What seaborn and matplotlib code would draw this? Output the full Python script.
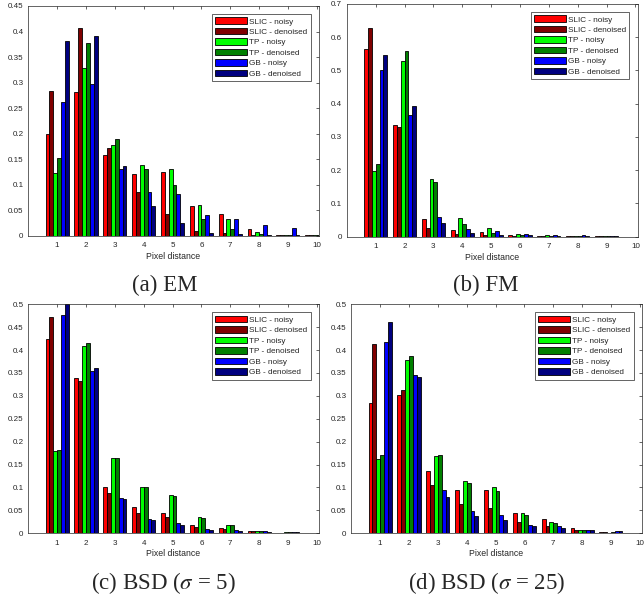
import numpy as np
import pandas as pd
import matplotlib
matplotlib.use("Agg")
import matplotlib.pyplot as plt
from matplotlib.ticker import FuncFormatter, MultipleLocator
import seaborn as sns

# Pixel distances (bar groups) and the six compared methods
DISTANCES = [1, 2, 3, 4, 5, 6, 7, 8, 9, 10]
SERIES = ["SLIC - noisy", "SLIC - denoised", "TP - noisy",
          "TP - denoised", "GB - noisy", "GB - denoised"]
COLORS = ["#ff0000", "#800000", "#00ff00", "#008000", "#0000ff", "#000080"]

# (a) EM
EM_SLIC_NOISY = [0.200, 0.282, 0.159, 0.121, 0.124, 0.059, 0.042, 0.013, 0.0005, 0.0005]
EM_SLIC_DENOISED = [0.283, 0.406, 0.172, 0.085, 0.042, 0.010, 0.005, 0.001, 0.0005, 0.0005]
EM_TP_NOISY = [0.123, 0.328, 0.177, 0.139, 0.131, 0.061, 0.033, 0.008, 0.001, 0.0005]
EM_TP_DENOISED = [0.152, 0.377, 0.190, 0.131, 0.099, 0.033, 0.014, 0.004, 0.002, 0.0005]
EM_GB_NOISY = [0.262, 0.298, 0.130, 0.086, 0.082, 0.040, 0.033, 0.020, 0.016, 0.0005]
EM_GB_DENOISED = [0.381, 0.391, 0.136, 0.059, 0.025, 0.005, 0.003, 0.001, 0.001, 0.0005]

# (b) FM
FM_SLIC_NOISY = [0.565, 0.336, 0.053, 0.021, 0.015, 0.006, 0.002, 0.002, 0.001, 0.0005]
FM_SLIC_DENOISED = [0.628, 0.329, 0.026, 0.009, 0.005, 0.003, 0.001, 0.001, 0.001, 0.0005]
FM_TP_NOISY = [0.199, 0.529, 0.174, 0.056, 0.025, 0.008, 0.004, 0.002, 0.001, 0.0005]
FM_TP_DENOISED = [0.218, 0.560, 0.164, 0.039, 0.010, 0.004, 0.003, 0.002, 0.001, 0.0005]
FM_GB_NOISY = [0.501, 0.366, 0.060, 0.024, 0.017, 0.008, 0.006, 0.004, 0.003, 0.0005]
FM_GB_DENOISED = [0.546, 0.392, 0.042, 0.010, 0.006, 0.004, 0.003, 0.002, 0.001, 0.0005]

# (c) BSD, sigma = 5
BSD5_SLIC_NOISY = [0.425, 0.338, 0.101, 0.057, 0.045, 0.019, 0.012, 0.005, 0.001, 0.0005]
BSD5_SLIC_DENOISED = [0.473, 0.333, 0.088, 0.045, 0.035, 0.014, 0.009, 0.004, 0.001, 0.0005]
BSD5_TP_NOISY = [0.179, 0.410, 0.165, 0.101, 0.084, 0.035, 0.018, 0.006, 0.002, 0.0005]
BSD5_TP_DENOISED = [0.181, 0.415, 0.165, 0.100, 0.082, 0.034, 0.018, 0.006, 0.002, 0.0005]
BSD5_GB_NOISY = [0.476, 0.354, 0.076, 0.032, 0.022, 0.010, 0.008, 0.005, 0.003, 0.0005]
BSD5_GB_DENOISED = [0.500, 0.360, 0.075, 0.029, 0.019, 0.007, 0.005, 0.003, 0.002, 0.0005]

# (d) BSD, sigma = 25
BSD25_SLIC_NOISY = [0.285, 0.302, 0.135, 0.095, 0.094, 0.044, 0.031, 0.012, 0.002, 0.0005]
BSD25_SLIC_DENOISED = [0.413, 0.313, 0.105, 0.065, 0.055, 0.025, 0.017, 0.007, 0.002, 0.0005]
BSD25_TP_NOISY = [0.162, 0.379, 0.168, 0.114, 0.100, 0.044, 0.024, 0.007, 0.001, 0.0005]
BSD25_TP_DENOISED = [0.170, 0.387, 0.170, 0.110, 0.092, 0.040, 0.023, 0.007, 0.002, 0.0005]
BSD25_GB_NOISY = [0.418, 0.345, 0.095, 0.049, 0.040, 0.018, 0.015, 0.008, 0.005, 0.0005]
BSD25_GB_DENOISED = [0.462, 0.341, 0.079, 0.038, 0.029, 0.015, 0.011, 0.007, 0.005, 0.0005]

CAPTIONS = ["(a) EM", "(b) FM", r"(c) BSD ($\sigma$ = 5)", r"(d) BSD ($\sigma$ = 25)"]
Y_MAX = [0.45, 0.7, 0.5, 0.5]
Y_STEP = [0.05, 0.1, 0.05, 0.05]

sns.set_theme(style="white")
plt.rcParams.update({
    "font.family": ["Liberation Sans", "DejaVu Sans"],
    "mathtext.fontset": "stix",
    "axes.edgecolor": "#262626",
    "axes.linewidth": 0.5,
    "xtick.color": "#262626",
    "ytick.color": "#262626",
    "axes.labelcolor": "#262626",
})

W, H = 644, 595
fig = plt.figure(figsize=(W / 100, H / 100), dpi=100)


def px_rect(left, top, right, bottom):
    return [left / W, 1 - bottom / H, (right - left) / W, (bottom - top) / H]


rects = [
    px_rect(28.3, 6.0, 318.8, 235.7),
    px_rect(346.8, 4.0, 637.5, 236.7),
    px_rect(28.3, 304.3, 318.8, 533.3),
    px_rect(351.3, 304.3, 641.8, 533.3),
]
caption_pos = [(164.5, 285.0), (486.0, 285.0), (163.7, 583.5), (487.0, 583.5)]

panel_data = [
    [EM_SLIC_NOISY, EM_SLIC_DENOISED, EM_TP_NOISY, EM_TP_DENOISED, EM_GB_NOISY, EM_GB_DENOISED],
    [FM_SLIC_NOISY, FM_SLIC_DENOISED, FM_TP_NOISY, FM_TP_DENOISED, FM_GB_NOISY, FM_GB_DENOISED],
    [BSD5_SLIC_NOISY, BSD5_SLIC_DENOISED, BSD5_TP_NOISY, BSD5_TP_DENOISED, BSD5_GB_NOISY, BSD5_GB_DENOISED],
    [BSD25_SLIC_NOISY, BSD25_SLIC_DENOISED, BSD25_TP_NOISY, BSD25_TP_DENOISED, BSD25_GB_NOISY, BSD25_GB_DENOISED],
]

fmt = FuncFormatter(lambda v, _: f"{v:g}")

for rect, series_values, ymax, ystep, caption, cpos in zip(
        rects, panel_data, Y_MAX, Y_STEP, CAPTIONS, caption_pos):
    frame = pd.DataFrame({
        "distance": np.tile(DISTANCES, len(SERIES)),
        "method": np.repeat(SERIES, len(DISTANCES)),
        "fraction": np.concatenate(series_values),
    })
    ax = fig.add_axes(rect)
    sns.barplot(data=frame, x="distance", y="fraction", hue="method",
                hue_order=SERIES, palette=COLORS, native_scale=True,
                width=0.8, gap=0, errorbar=None, saturation=1,
                edgecolor="black", linewidth=0.6, ax=ax)
    ax.set_xlim(0, 10.07)
    ax.set_ylim(0, ymax)
    ax.set_xticks(DISTANCES)
    ax.yaxis.set_major_locator(MultipleLocator(ystep))
    ax.yaxis.set_major_formatter(fmt)
    ax.tick_params(direction="in", length=2.2, width=0.5, labelsize=5.8,
                   top=True, right=True, pad=3.5)
    ax.tick_params(axis="x", pad=4.5)
    ax.set_xlabel("Pixel distance", fontsize=6.3, labelpad=2)
    ax.set_ylabel("")
    for side in ax.spines.values():
        side.set_visible(True)

    sns.move_legend(ax, "upper right", title=None, frameon=True,
                    fancybox=False, fontsize=5.9, handlelength=3.9,
                    handleheight=0.82, handletextpad=0.25, labelspacing=0.3,
                    borderpad=0.4, borderaxespad=1.0, framealpha=1,
                    edgecolor="#262626")
    leg = ax.get_legend()
    leg.get_frame().set_linewidth(0.5)
    for handle in leg.legend_handles:
        handle.set_edgecolor("black")
        handle.set_linewidth(0.6)

    fig.text(cpos[0] / W, 1 - cpos[1] / H, caption, ha="center", va="center",
             fontsize=16.5, family="Liberation Serif")

fig.savefig("out.png", dpi=100)
